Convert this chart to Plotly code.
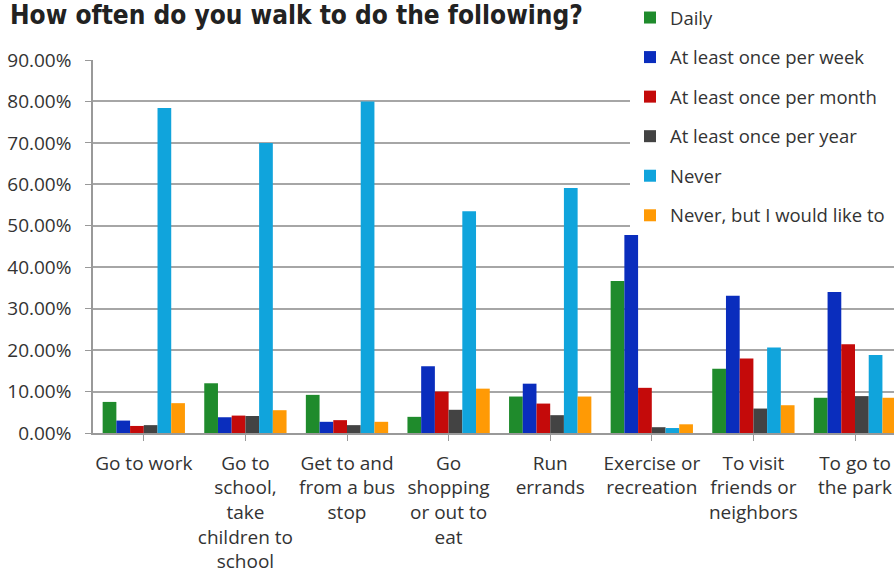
import plotly.graph_objects as go

categories = [
    "Go to work",
    "Go to<br>school,<br>take<br>children to<br>school",
    "Get to and<br>from a bus<br>stop",
    "Go<br>shopping<br>or out to<br>eat",
    "Run<br>errands",
    "Exercise or<br>recreation",
    "To visit<br>friends or<br>neighbors",
    "To go to<br>the park",
]

daily = [0.075, 0.120, 0.092, 0.039, 0.088, 0.367, 0.155, 0.085]
weekly = [0.030, 0.038, 0.027, 0.161, 0.119, 0.478, 0.331, 0.340]
monthly = [0.017, 0.042, 0.031, 0.100, 0.071, 0.109, 0.180, 0.214]
yearly = [0.019, 0.041, 0.019, 0.056, 0.043, 0.014, 0.059, 0.089]
never = [0.784, 0.700, 0.800, 0.535, 0.591, 0.012, 0.206, 0.188]
never_like = [0.072, 0.055, 0.027, 0.107, 0.088, 0.021, 0.067, 0.085]

series_names = [
    "Daily",
    "At least once per week",
    "At least once per month",
    "At least once per year",
    "Never",
    "Never, but I would like to\u00a0\u00a0",
]
series_values = [daily, weekly, monthly, yearly, never, never_like]
colors = ["#1f8b2c", "#0a2dbd", "#c40a0a", "#434343", "#10a4dc", "#ff9a05"]

fig = go.Figure()
for i, (name, vals, col) in enumerate(zip(series_names, series_values, colors)):
    fig.add_trace(go.Bar(
        x=list(range(len(categories))), y=vals, name=name,
        marker=dict(color=col, line=dict(width=0)),
        legendgroup=str(i),
    ))

left, top, plot_bottom = 93, 60, 433
W, H = 894, 583
cat_px = 101.6
plot_w = W - left
plot_h = plot_bottom - top
n_vis = plot_w / cat_px
FS = 19

fig.update_layout(
    width=W, height=H,
    margin=dict(l=left, r=0, t=top, b=H - plot_bottom, pad=0, autoexpand=False),
    paper_bgcolor="white", plot_bgcolor="white",
    barmode="group", bargap=0.19, bargroupgap=0,
    font=dict(family="Open Sans, sans-serif", size=FS, color="#333333"),
    showlegend=True,
    legend=dict(
        x=(630 - left) / plot_w, y=(plot_bottom + 1) / plot_h,
        xanchor="left", yanchor="top",
        bgcolor="white", borderwidth=0,
        font=dict(family="Open Sans, sans-serif", size=18.5, color="#333333"),
        tracegroupgap=12.5, itemwidth=30,
    ),
    xaxis=dict(
        tickmode="array", tickvals=list(range(len(categories))), ticktext=categories,
        range=[-0.5, -0.5 + n_vis], automargin=False,
        showline=True, linecolor="#999999", linewidth=1.5,
        ticks="outside", tickson="boundaries", ticklen=6, tickcolor="#999999",
        showgrid=False, tickangle=0, ticklabelstandoff=6,
        tickfont=dict(size=FS, color="#333333"),
    ),
    yaxis=dict(
        range=[0, 0.9], dtick=0.1, tick0=0, tickformat=".2%", automargin=False,
        showline=True, linecolor="#999999", linewidth=1.5,
        ticks="outside", ticklen=6, tickcolor="#999999",
        showgrid=True, gridcolor="#a6a6a6", gridwidth=1.5,
        zeroline=False, ticklabelstandoff=10,
        tickfont=dict(size=FS, color="#333333"),
    ),
    annotations=[dict(
        text="<b>How often do you walk to do the following?</b>",
        xref="paper", yref="paper",
        x=(8 - left) / plot_w, y=(plot_bottom - 32) / plot_h,
        xanchor="left", yanchor="bottom", showarrow=False,
        font=dict(family="DejaVu Sans Condensed, DejaVu Sans", size=26, color="#222222"),
    )],
)

fig.write_html("out.html", post_script="document.body.style.margin='0';",
               config={"displayModeBar": False})
